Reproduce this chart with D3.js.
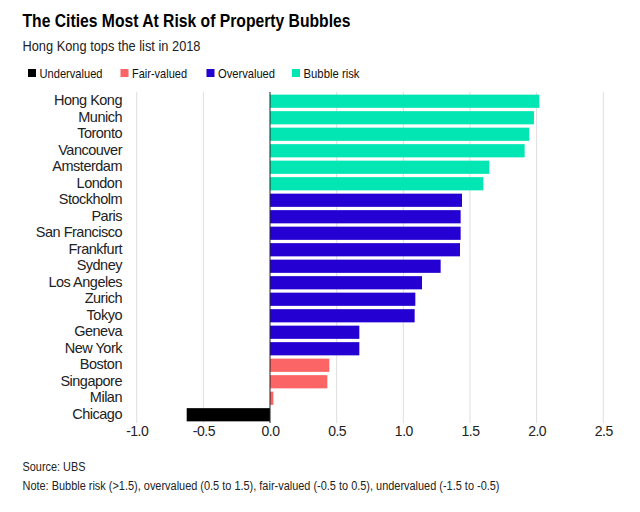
<!DOCTYPE html>
<html>
<head>
<meta charset="utf-8">
<script src="https://cdn.jsdelivr.net/npm/d3@7"></script>
<style>
  html, body { margin: 0; padding: 0; background: #fff; }
  svg { display: block; font-family: "Liberation Sans", Arial, sans-serif; }
</style>
</head>
<body>
<svg id="chart" width="640" height="512"></svg>
<script>
const cities = ["Hong Kong","Munich","Toronto","Vancouver","Amsterdam","London","Stockholm","Paris","San Francisco","Frankfurt","Sydney","Los Angeles","Zurich","Tokyo","Geneva","New York","Boston","Singapore","Milan","Chicago"];
const values = [2.02,1.98,1.945,1.91,1.645,1.60,1.44,1.43,1.43,1.425,1.28,1.14,1.09,1.085,0.67,0.67,0.445,0.43,0.025,-0.625];
const categories = ["Undervalued","Fair-valued","Overvalued","Bubble risk"];
const categoryColors = ["#000000","#fb6565","#2400d2","#02e6b4"];
const xTicks = [-1.0,-0.5,0.0,0.5,1.0,1.5,2.0,2.5];

function categoryOf(v) {
  if (v > 1.5) return "Bubble risk";
  if (v > 0.5) return "Overvalued";
  if (v > -0.5) return "Fair-valued";
  return "Undervalued";
}

const svg = d3.select("#chart");
const color = d3.scaleOrdinal().domain(categories).range(categoryColors);

// Title & subtitle
svg.append("text").attr("x", 22.5).attr("y", 27.3)
  .attr("font-size", 18.5).attr("font-weight", "bold").attr("fill", "#000")
  .attr("textLength", 328).attr("lengthAdjust", "spacingAndGlyphs")
  .text("The Cities Most At Risk of Property Bubbles");
svg.append("text").attr("x", 22.5).attr("y", 50.7)
  .attr("font-size", 15).attr("fill", "#222")
  .attr("textLength", 178).attr("lengthAdjust", "spacingAndGlyphs")
  .text("Hong Kong tops the list in 2018");

// Legend
const legendX = [28, 120.5, 206.5, 292];
const legendW = [63, 55, 57, 56];
const lg = svg.append("g");
categories.forEach((c, i) => {
  const g = lg.append("g").attr("transform", `translate(${legendX[i]},0)`);
  g.append("rect").attr("x", 0).attr("y", 69).attr("width", 8).attr("height", 8).attr("fill", color(c));
  g.append("text").attr("x", 11.5).attr("y", 77.5).attr("font-size", 12.8).attr("fill", "#111")
    .attr("textLength", legendW[i]).attr("lengthAdjust", "spacingAndGlyphs").text(c);
});

// Scales
const x = d3.scaleLinear().domain([-1, 2.5]).range([136.7, 603.3]);
const y = d3.scaleBand().domain(cities).range([93, 423]).paddingInner(0.2).paddingOuter(0.1);

// Gridlines
svg.append("g").selectAll("line").data(xTicks.filter(t => t !== 0)).join("line")
  .attr("x1", d => x(d)).attr("x2", d => x(d))
  .attr("y1", 92).attr("y2", 423)
  .attr("stroke", "#dedede").attr("stroke-width", 1);

// Bars
svg.append("g").selectAll("rect").data(values).join("rect")
  .attr("x", d => x(Math.min(0, d)))
  .attr("y", (d, i) => y(cities[i]))
  .attr("width", d => Math.abs(x(d) - x(0)))
  .attr("height", y.bandwidth())
  .attr("fill", d => color(categoryOf(d)));

// Zero line
svg.append("line").attr("x1", x(0)).attr("x2", x(0)).attr("y1", 92).attr("y2", 423)
  .attr("stroke", "#222").attr("stroke-width", 1);

// City labels
svg.append("g").selectAll("text").data(cities).join("text")
  .attr("x", 122).attr("y", d => y(d) + y.bandwidth() / 2)
  .attr("dy", "0.28em").attr("text-anchor", "end")
  .attr("font-size", 14.5).attr("fill", "#222").attr("letter-spacing", -0.5)
  .text(d => d);

// X axis
const fmt = d3.format(".1f");
const xAxis = d3.axisBottom(x).tickValues(xTicks)
  .tickFormat(d => fmt(d).replace("\u2212", "-")).tickSize(0).tickPadding(0);
const ax = svg.append("g").attr("transform", "translate(0,426)").call(xAxis);
ax.select(".domain").remove();
ax.selectAll("text").attr("font-size", 14).attr("fill", "#222")
  .attr("font-family", "Liberation Sans, Arial, sans-serif").attr("dy", "0.71em").attr("y", 0)
  .attr("letter-spacing", -0.5);

// Footnotes
svg.append("text").attr("x", 22.5).attr("y", 471).attr("font-size", 12.5).attr("fill", "#222")
  .attr("textLength", 63).attr("lengthAdjust", "spacingAndGlyphs").text("Source: UBS");
svg.append("text").attr("x", 22.5).attr("y", 489.5).attr("font-size", 12.5).attr("fill", "#222")
  .attr("textLength", 477).attr("lengthAdjust", "spacingAndGlyphs")
  .text("Note: Bubble risk (>1.5), overvalued (0.5 to 1.5), fair-valued (-0.5 to 0.5), undervalued (-1.5 to -0.5)");
</script>
</body>
</html>
